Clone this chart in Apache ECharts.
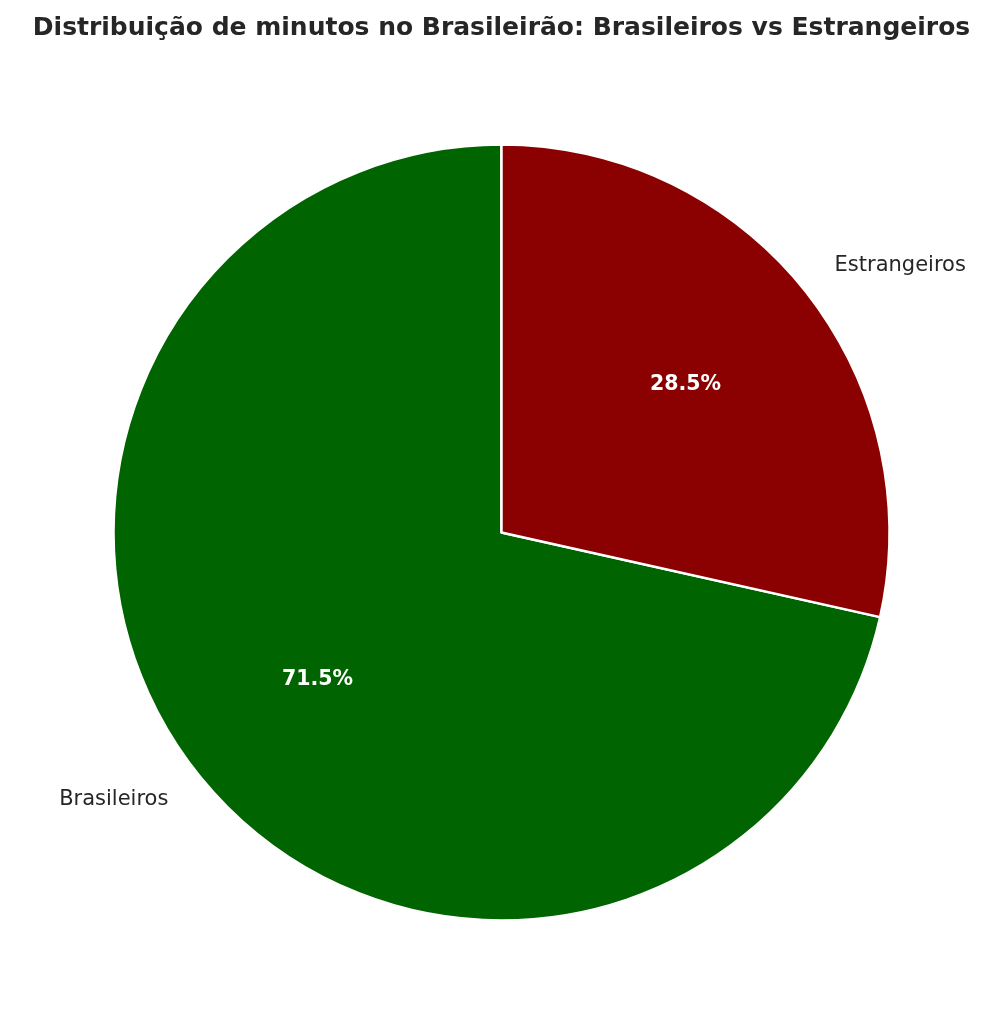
<!DOCTYPE html>
<html>
<head>
<meta charset="utf-8">
<script src="https://cdn.jsdelivr.net/npm/echarts@6/dist/echarts.min.js"></script>
<style>
html,body{margin:0;padding:0;background:#fff;}
#chart{width:1003px;height:1035px;}
</style>
</head>
<body>
<div id="chart"></div>
<script>
const chartTitle = 'Distribuição de minutos no Brasileirão: Brasileiros vs Estrangeiros';
const categories = ['Brasileiros', 'Estrangeiros'];
const percentages = [71.5, 28.5];
const sliceColors = ['#006400', '#8b0000'];

const FONT = '"DejaVu Sans", sans-serif';
const CX = 501.5, CY = 532.5, R = 388;

const pieData = categories.map((c, i) => ({
  name: c,
  value: percentages[i],
  itemStyle: { color: sliceColors[i] }
}));

const chart = echarts.init(document.getElementById('chart'), null, { renderer: 'canvas' });
chart.setOption({
  backgroundColor: '#ffffff',
  animation: false,
  title: {
    text: chartTitle,
    left: 'center',
    top: 11,
    textStyle: { fontFamily: FONT, fontSize: 25, fontWeight: 'bold', color: '#262626' }
  },
  series: [
    {
      type: 'pie',
      center: [CX, CY],
      radius: [0, R],
      startAngle: 90,
      clockwise: false,
      avoidLabelOverlap: false,
      silent: true,
      itemStyle: { borderColor: '#ffffff', borderWidth: 2.5 },
      label: {
        show: true,
        position: 'outside',
        formatter: '{b}',
        fontFamily: FONT,
        fontSize: 21,
        color: '#262626',
        distanceToLabelLine: 0
      },
      labelLine: { show: false, length: R * 0.1, length2: 0 },
      data: pieData
    },
    {
      type: 'pie',
      center: [CX, CY],
      radius: [0, R * 1.2],
      startAngle: 90,
      clockwise: false,
      avoidLabelOverlap: false,
      silent: true,
      itemStyle: { color: 'rgba(0,0,0,0)', borderWidth: 0 },
      label: {
        show: true,
        position: 'inside',
        formatter: (p) => p.value.toFixed(1) + '%',
        fontFamily: FONT,
        fontSize: 20.5,
        fontWeight: 'bold',
        color: '#ffffff'
      },
      labelLine: { show: false },
      data: categories.map((c, i) => ({ name: c, value: percentages[i] }))
    }
  ]
});
</script>
</body>
</html>
